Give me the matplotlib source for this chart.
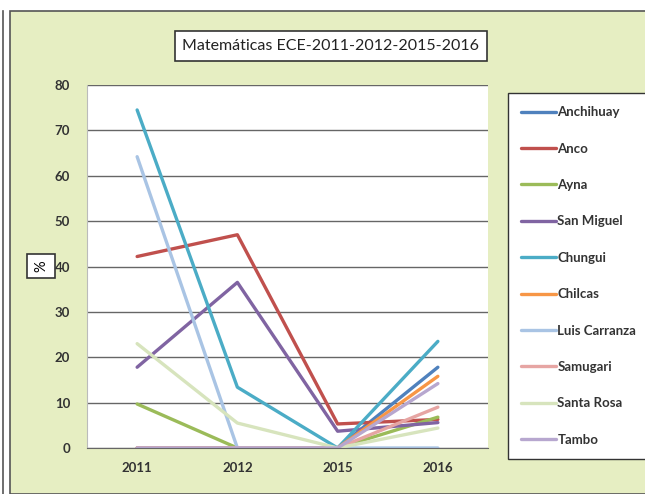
import matplotlib
matplotlib.use("Agg")
from matplotlib import pyplot as plt
from matplotlib.patches import Rectangle

# data
years = ["2011", "2012", "2015", "2016"]
names = ["Anchihuay", "Anco", "Ayna", "San Miguel", "Chungui", "Chilcas",
         "Luis Carranza", "Samugari", "Santa Rosa", "Tambo"]
anchihuay = [0, 0, 0, 17.8]
anco = [42.2, 47.0, 5.3, 6.3]
ayna = [9.7, 0, 0, 6.8]
san_miguel = [17.8, 36.5, 3.7, 5.6]
chungui = [74.5, 13.4, 0, 23.5]
chilcas = [0, 0, 0, 15.8]
luis_carranza = [64.2, 0, 0, 0]
samugari = [0, 0, 0, 9.0]
santa_rosa = [23.0, 5.5, 0, 4.4]
tambo = [0, 0, 0, 14.2]
series = [anchihuay, anco, ayna, san_miguel, chungui, chilcas,
          luis_carranza, samugari, santa_rosa, tambo]
colores = ["#4F81BD", "#C0504D", "#9BBB59", "#8064A2", "#4BACC6", "#F79646",
           "#A9C4E4", "#E6A5A3", "#D7E4BD", "#B7A7CF"]

plt.rcParams['font.family'] = ['Lato', 'DejaVu Sans']

fig = plt.figure(figsize=(6.45, 4.94), dpi=100)
W, H = 645.0, 494.0

# green chart area with double left border
fig.patches.append(Rectangle((10 / W, 0), 1, 1 - 11 / H, transform=fig.transFigure,
                             facecolor="#E6EEC2", edgecolor="#555555", linewidth=1.2,
                             zorder=-5))
fig.lines.append(plt.Line2D([3 / W, 3 / W], [0, 1 - 11 / H], transform=fig.transFigure,
                            color="#555555", linewidth=1.2, zorder=-5))

ax = fig.add_axes([87 / W, 1 - 448 / H, (488 - 87) / W, (448 - 85) / H])
ax.set_facecolor("white")
x = list(range(len(years)))
for nombre, valores, c in zip(names, series, colores):
    ax.plot(x, valores, color=c, linewidth=2.4, label=nombre, solid_capstyle="round")

ax.set_xlim(-0.5, 3.5)
ax.set_ylim(0, 80)
ax.set_yticks(range(0, 81, 10))
ax.set_xticks(x)
ax.set_xticklabels(years, fontweight="bold", fontsize=9.5, color="#333333")
ax.tick_params(axis="y", labelsize=9.5, length=0, pad=12, labelcolor="#333333")
ax.tick_params(axis="x", length=0, pad=10)
for t in ax.get_yticklabels():
    t.set_fontweight("bold")
ax.yaxis.grid(True, color="#666666", linewidth=1.0)
ax.set_axisbelow(True)
for s in ["top", "right"]:
    ax.spines[s].set_visible(False)
ax.spines["left"].set_color("#BBBBBB")
ax.spines["bottom"].set_color("#666666")

# title box
fig.text(331 / W, 1 - 46 / H, "Matemáticas ECE-2011-2012-2015-2016", ha="center", va="center",
         fontsize=11.5, color="#222222",
         bbox=dict(boxstyle="square,pad=0.5", facecolor="white", edgecolor="#333333", linewidth=1.2))

# y label box
fig.text(41 / W, 1 - 266 / H, "%", ha="center", va="center", rotation=90, fontsize=10.5,
         bbox=dict(boxstyle="square,pad=0.45", facecolor="white", edgecolor="#333333", linewidth=1.2))

leg = fig.legend(loc="upper left", bbox_to_anchor=(508 / W, 1 - 93 / H), frameon=True,
                 prop=dict(size=9.5, weight="bold"), handlelength=2.6, handletextpad=0.15,
                 labelspacing=1.85, borderpad=1.0, borderaxespad=0, fancybox=False,
                 edgecolor="#333333", framealpha=1)
leg.get_frame().set_linewidth(1.0)
for t in leg.get_texts():
    t.set_color("#333333")

fig.savefig("out.png", dpi=100)
